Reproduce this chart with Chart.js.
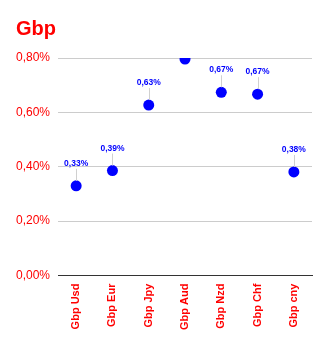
<!DOCTYPE html>
<html lang="en">
<head>
    <meta charset="UTF-8">
    <title>Gbp</title>
    <script src="https://cdn.jsdelivr.net/npm/chart.js@4/dist/chart.umd.min.js"></script>
    <style>
        html, body { margin: 0; padding: 0; background: #fff; }
        #wrap { width: 329px; height: 344px; }
    </style>
</head>
<body>
<div id="wrap"><canvas id="gbpChart" width="329" height="344"></canvas></div>
<script>
    // data (percent)
    const pairs = ['Gbp Usd', 'Gbp Eur', 'Gbp Jpy', 'Gbp Aud', 'Gbp Nzd', 'Gbp Chf', 'Gbp cny'];
    const rates = [0.33, 0.386, 0.627, 0.796, 0.674, 0.667, 0.381];
    const yTicks = [0, 0.2, 0.4, 0.6, 0.8];
    const titleText = 'Gbp';

    const FONT = '"Liberation Sans", Arial, sans-serif';
    const fmt = (v) => v.toFixed(2).replace('.', ',') + '%';

    // title drawn by hand so it can sit at its own left offset
    const titleDraw = {
        id: 'titleDraw',
        afterDraw(chart) {
            const ctx = chart.ctx;
            ctx.save();
            ctx.font = 'bold 20px ' + FONT;
            ctx.fillStyle = '#ff0000';
            ctx.textAlign = 'left';
            ctx.textBaseline = 'alphabetic';
            ctx.fillText(titleText, 16, 35);
            ctx.restore();
        }
    };

    // value labels above the points with a small leader line
    const valueLabels = {
        id: 'valueLabels',
        afterDatasetsDraw(chart) {
            const ctx = chart.ctx;
            const meta = chart.getDatasetMeta(0);
            const area = chart.chartArea;
            ctx.save();
            ctx.font = 'bold 8.5px ' + FONT;
            ctx.textAlign = 'center';
            ctx.textBaseline = 'bottom';
            meta.data.forEach((pt, i) => {
                const textY = pt.y - 17;
                if (textY - 9 < area.top) return; // clipped like the original
                ctx.strokeStyle = '#d0d0d0';
                ctx.lineWidth = 1;
                ctx.beginPath();
                ctx.moveTo(Math.round(pt.x) + 0.5, pt.y - 5);
                ctx.lineTo(Math.round(pt.x) + 0.5, textY);
                ctx.stroke();
                ctx.fillStyle = '#0000ff';
                ctx.fillText(fmt(rates[i]), pt.x, textY - 1);
            });
            ctx.restore();
        }
    };

    new Chart(document.getElementById('gbpChart'), {
        type: 'line',
        data: {
            labels: pairs,
            datasets: [{
                data: rates,
                showLine: false,
                pointRadius: 5.5,
                pointHoverRadius: 5.5,
                pointBackgroundColor: '#0000ff',
                pointBorderColor: '#0000ff',
                pointBorderWidth: 0
            }]
        },
        options: {
            responsive: false,
            animation: false,
            layout: { padding: { left: 8, right: 17, top: 58, bottom: 6 } },
            plugins: {
                legend: { display: false },
                tooltip: { enabled: false },
                title: { display: false }
            },
            scales: {
                x: {
                    offset: true,
                    grid: { display: false, drawTicks: false },
                    border: { display: true, color: '#333333', width: 1 },
                    ticks: {
                        color: '#ff0000',
                        font: { family: FONT, size: 11, weight: 'bold' },
                        minRotation: 90,
                        maxRotation: 90,
                        padding: 8,
                        autoSkip: false
                    }
                },
                y: {
                    min: 0,
                    max: 0.8,
                    afterBuildTicks(scale) {
                        scale.ticks = yTicks.map(v => ({ value: v }));
                    },
                    grid: {
                        color: (c) => c.tick && c.tick.value === 0 ? '#333333' : '#cccccc',
                        drawTicks: false
                    },
                    border: { display: false },
                    ticks: {
                        color: '#ff0000',
                        font: { family: FONT, size: 12 },
                        padding: 8,
                        callback: (v) => fmt(v)
                    }
                }
            }
        },
        plugins: [valueLabels, titleDraw]
    });
</script>
</body>
</html>
